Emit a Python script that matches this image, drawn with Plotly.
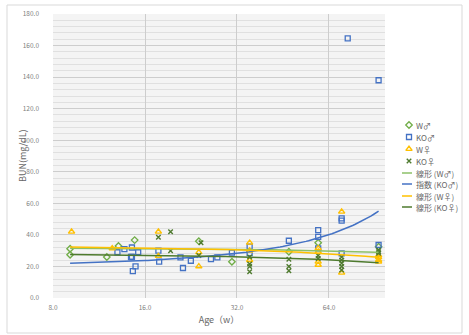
import numpy as np
import plotly.graph_objects as go

# ---- data: age (weeks) and BUN (mg/dL) per group ----
w_m_age = [9.1, 9.1, 12.0, 13.1, 14.8, 24.0, 30.8, 47.3, 59.0, 93.0]
w_m_bun = [31.2, 27.4, 26.0, 33.0, 36.7, 36.0, 23.0, 29.3, 35.0, 32.5]

ko_m_age = [13.0, 13.7, 14.5, 14.4, 14.5, 15.2, 14.9, 14.6, 17.7, 17.8, 20.9, 21.3,
            22.6, 26.3, 27.6, 30.8, 35.2, 35.2, 47.3, 59.0, 59.0, 59.0, 70.4, 70.4,
            70.4, 73.7, 93.0, 93.0]
ko_m_bun = [29.0, 31.0, 32.0, 26.0, 26.0, 29.0, 20.0, 17.0, 30.0, 23.0, 25.8, 19.0,
            23.6, 24.7, 25.8, 28.7, 32.5, 28.5, 36.3, 43.0, 38.8, 31.5, 50.5, 49.0,
            28.3, 164.6, 138.0, 33.6]

w_f_age = [9.2, 12.5, 17.7, 17.7, 24.0, 24.0, 35.2, 35.2, 35.2, 59.0, 59.0, 59.0,
           59.0, 70.4, 70.4, 93.0, 93.0, 93.0, 93.0]
w_f_bun = [42.0, 31.5, 42.0, 26.6, 29.0, 20.0, 35.0, 30.0, 24.0, 31.5, 29.3, 23.0,
           21.0, 54.7, 16.0, 27.0, 25.8, 24.0, 23.0]

ko_f_age = [17.7, 19.4, 19.4, 24.4, 24.0, 35.2, 35.2, 35.2, 35.2, 47.3, 47.3, 47.3,
            59.0, 59.0, 70.4, 70.4, 70.4, 70.4, 70.4, 93.0, 93.0, 93.0]
ko_f_bun = [38.5, 42.0, 30.0, 35.0, 27.0, 26.0, 21.5, 20.0, 16.7, 24.5, 20.0, 17.3,
            27.0, 25.0, 26.0, 24.0, 22.0, 20.0, 17.7, 30.4, 29.3, 28.3]

# trendline coefficients (linear: [intercept, slope]; exponential: [a, k] for a*exp(k*x))
trend_w_m = [31.77, -0.0298]
trend_ko_m = [19.95, 0.01091]
trend_w_f = [33.0, -0.0774]
trend_ko_f = [28.16, -0.0619]
trend_age_span = [9.1, 93.0]

x_ticks = [8, 16, 32, 64]
x_tick_text = ["8.0", "16.0", "32.0", "64.0"]
y_ticks = list(range(0, 181, 20))
y_tick_text = [f"{v:.1f}" for v in y_ticks]

series_names = ["W♂", "KO♂", "W♀", "KO♀"]
trend_names = ["線形 (W♂)", "指数 (KO♂)", "線形 (W♀)", "線形 (KO♀)"]

C_WM = "#70AD47"
C_KOM = "#4472C4"
C_WF = "#FFC000"
C_KOF = "#4E7A2E"
C_WM_LINE = "#8CC068"

FONT = "Noto Sans CJK JP"

xs = np.geomspace(trend_age_span[0], trend_age_span[1], 120)


def linear_line(coef):
    return coef[0] + coef[1] * xs


def exp_line(coef):
    return coef[0] * np.exp(coef[1] * xs)


fig = go.Figure()

marker_styles = [
    dict(symbol="diamond-open", color=C_WM, size=5, line=dict(width=1.3, color=C_WM)),
    dict(symbol="square-open", color=C_KOM, size=5, line=dict(width=1.3, color=C_KOM)),
    dict(symbol="triangle-up-open", color=C_WF, size=5.5, line=dict(width=1.4, color=C_WF)),
    dict(symbol="x-thin-open", color=C_KOF, size=4.5, line=dict(width=1.4, color=C_KOF)),
]
groups = [(w_m_age, w_m_bun), (ko_m_age, ko_m_bun), (w_f_age, w_f_bun), (ko_f_age, ko_f_bun)]

for (ax, ay), mk, name in zip(groups, marker_styles, series_names):
    fig.add_trace(go.Scatter(x=ax, y=ay, mode="markers", marker=mk, name=name,
                             showlegend=False, xaxis="x", yaxis="y"))

trend_colors = [C_WM_LINE, C_KOM, C_WF, C_KOF]
trend_ys = [linear_line(trend_w_m), exp_line(trend_ko_m),
            linear_line(trend_w_f), linear_line(trend_ko_f)]
for ty, col, name in zip(trend_ys, trend_colors, trend_names):
    fig.add_trace(go.Scatter(x=xs, y=ty, mode="lines", line=dict(color=col, width=1.5),
                             name=name, showlegend=False, xaxis="x", yaxis="y"))

W, H = 469, 335
L, R, T, B = 53, 7, 14, 37
pw = W - L - R
ph = H - T - B
main_right = 385

# ---- legend drawn on its own small axis (pixel-like coordinates) ----
leg_rows_m = [125, 137, 149, 161]
leg_rows_l = [173, 184, 196, 207]
for yy, mk in zip(leg_rows_m, marker_styles):
    fig.add_trace(go.Scatter(x=[409], y=[yy], mode="markers", marker=mk,
                             showlegend=False, hoverinfo="skip", xaxis="x2", yaxis="y2"))
for yy, col in zip(leg_rows_l, trend_colors):
    fig.add_trace(go.Scatter(x=[402, 412], y=[yy, yy], mode="lines",
                             line=dict(color=col, width=1.5),
                             showlegend=False, hoverinfo="skip", xaxis="x2", yaxis="y2"))
annotations = []
for yy, name in zip(leg_rows_m + leg_rows_l, series_names + trend_names):
    annotations.append(dict(x=414, y=yy, xref="x2", yref="y2", text=name, showarrow=False,
                            xanchor="left", yanchor="middle",
                            font=dict(family=FONT, size=8, color="#666666")))
# y-axis title
annotations.append(dict(x=(22 - L) / pw, y=0.5, xref="paper", yref="paper",
                        text="BUN(mg/dL)", textangle=-90, showarrow=False,
                        xanchor="center", yanchor="middle",
                        font=dict(family=FONT, size=9, color="#666666")))

leg_lo = (main_right + 5 - L) / pw

fig.update_layout(
    width=W, height=H,
    margin=dict(l=L, r=R, t=T, b=B, pad=0),
    paper_bgcolor="white",
    plot_bgcolor="#f4f4f4",
    font=dict(family=FONT, color="#7f7f7f"),
    annotations=annotations,
    xaxis=dict(
        type="log", domain=[0, (main_right - L) / pw],
        range=[np.log10(8), np.log10(97.6)],
        tickvals=x_ticks, ticktext=x_tick_text,
        showgrid=True, gridcolor="#cdcdcd", gridwidth=1,
        zeroline=False, showline=False, ticks="",
        tickfont=dict(family=FONT, size=6.5, color="#808080"),
        ticklabelstandoff=4,
        title=dict(text="Age（w）", font=dict(family=FONT, size=9, color="#666666"), standoff=6),
        fixedrange=True,
    ),
    yaxis=dict(
        range=[0, 180], tickvals=y_ticks, ticktext=y_tick_text,
        showgrid=True, gridcolor="#cdcdcd", gridwidth=1,
        minor=dict(dtick=4, showgrid=True, gridcolor="#e0e0e0", gridwidth=1),
        zeroline=False, showline=False, ticks="",
        tickfont=dict(family=FONT, size=6.5, color="#808080"),
        ticklabelstandoff=13,
        fixedrange=True,
    ),
    xaxis2=dict(domain=[leg_lo, 1], range=[main_right + 5, W - R],
                visible=False, fixedrange=True),
    yaxis2=dict(domain=[0, 1], range=[H - B, T], visible=False, fixedrange=True,
                anchor="x2"),
)

# the legend strip keeps a white background
fig.add_shape(type="rect", xref="paper", yref="paper", x0=leg_lo - 0.002, x1=1.0, y0=0, y1=1,
              fillcolor="white", line=dict(width=0), layer="below")
# chart frame
fig.add_shape(type="rect", xref="paper", yref="paper",
              x0=(7 - L) / pw, x1=(462 - L) / pw,
              y0=(H - B - 333) / ph, y1=(H - B - 5) / ph,
              line=dict(color="#d9d9d9", width=1), fillcolor="rgba(0,0,0,0)")

fig.write_html("out.html")
